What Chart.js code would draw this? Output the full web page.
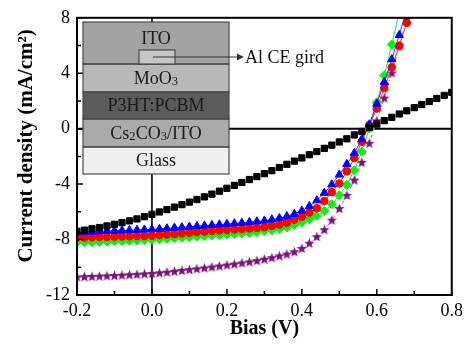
<!DOCTYPE html>
<html>
<head>
<meta charset="utf-8">
<script src="https://cdn.jsdelivr.net/npm/chart.js@4.4.1/dist/chart.umd.min.js"></script>
<style>
  html, body { margin: 0; padding: 0; background: #fff; }
  #wrap { width: 468px; height: 345px; }
</style>
</head>
<body>
<div id="wrap"><canvas id="ivChart" width="468" height="345"></canvas></div>
<script>
// bias (V), one point every 20 mV
const bias = [-0.20, -0.18, -0.16, -0.14, -0.12, -0.10, -0.08, -0.06, -0.04, -0.02,
  0.00, 0.02, 0.04, 0.06, 0.08, 0.10, 0.12, 0.14, 0.16, 0.18,
  0.20, 0.22, 0.24, 0.26, 0.28, 0.30, 0.32, 0.34, 0.36, 0.38,
  0.40, 0.42, 0.44, 0.46, 0.48, 0.50, 0.52, 0.54, 0.56, 0.58,
  0.60, 0.62, 0.64, 0.66, 0.68, 0.70, 0.72, 0.74, 0.76, 0.78, 0.80];

// current density (mA/cm2)
const jSquare = [-7.40, -7.32, -7.22, -7.13, -7.02, -6.90, -6.78, -6.65, -6.51, -6.35,
  -6.18, -6.01, -5.84, -5.66, -5.48, -5.30, -5.11, -4.92, -4.72, -4.51,
  -4.30, -4.09, -3.88, -3.67, -3.46, -3.25, -3.03, -2.80, -2.57, -2.34,
  -2.11, -1.88, -1.65, -1.42, -1.19, -0.96, -0.73, -0.45, -0.20, 0.08,
  0.33, 0.58, 0.82, 1.06, 1.29, 1.52, 1.74, 1.96, 2.18, 2.40, 2.62];
const jTriangle = [-7.50, -7.47, -7.44, -7.41, -7.39, -7.37, -7.35, -7.33, -7.31, -7.29,
  -7.27, -7.24, -7.20, -7.16, -7.12, -7.08, -7.04, -7.00, -6.96, -6.92,
  -6.88, -6.84, -6.80, -6.75, -6.70, -6.64, -6.56, -6.46, -6.33, -6.16,
  -5.92, -5.60, -5.18, -4.64, -4.03, -3.32, -2.56, -1.76, -0.76, 0.30,
  1.80, 3.36, 5.00, 6.75, 8.60];
const jCircle = [-7.85, -7.84, -7.83, -7.82, -7.81, -7.80, -7.78, -7.77, -7.75, -7.74,
  -7.72, -7.68, -7.64, -7.60, -7.55, -7.50, -7.46, -7.42, -7.38, -7.34,
  -7.30, -7.27, -7.24, -7.20, -7.16, -7.10, -7.02, -6.92, -6.78, -6.56,
  -6.36, -6.06, -5.74, -5.22, -4.58, -3.95, -3.08, -2.12, -0.95, 0.26,
  1.45, 2.93, 4.43, 5.98, 7.64];
const jDiamond = [-8.20, -8.19, -8.18, -8.16, -8.14, -8.12, -8.10, -8.08, -8.06, -8.04,
  -8.02, -7.99, -7.95, -7.91, -7.87, -7.83, -7.79, -7.75, -7.71, -7.67,
  -7.63, -7.59, -7.55, -7.51, -7.46, -7.40, -7.33, -7.24, -7.12, -6.94,
  -6.76, -6.52, -6.30, -5.95, -5.45, -4.81, -4.05, -3.00, -1.66, 0.02,
  1.90, 3.85, 6.07, 8.40];
const jStar = [-10.70, -10.68, -10.66, -10.64, -10.62, -10.60, -10.57, -10.54, -10.51, -10.48,
  -10.45, -10.40, -10.35, -10.29, -10.23, -10.17, -10.11, -10.05, -9.98, -9.91,
  -9.84, -9.77, -9.69, -9.61, -9.52, -9.42, -9.31, -9.18, -9.05, -8.88,
  -8.64, -8.26, -7.79, -7.29, -6.60, -5.76, -4.81, -3.71, -2.43, -1.05,
  0.57, 2.21, 4.02, 5.98, 7.93];

const yTicks = [-12, -8, -4, 0, 4, 8];
const xTicks = [-0.2, 0.0, 0.2, 0.4, 0.6, 0.8];

// device stack shown in the inset, top to bottom
const layerNames = [
  [['ITO', 0]],
  [['MoO', 0], ['3', 1]],
  [['P3HT:PCBM', 0]],
  [['Cs', 0], ['2', 1], ['CO', 0], ['3', 1], ['/ITO', 0]],
  [['Glass', 0]]
];
const layerFill = ['#a2a2a2', '#b9b9b9', '#5b5b5b', '#aaaaaa', '#efefef'];
const gridLabel = 'Al CE gird';

const SERIF = "'Liberation Serif', 'Times New Roman', serif";

function pts(ys) {
  return ys.map((v, i) => ({ x: bias[i], y: v }));
}

// filled five point star for the last curve
function starImage(color) {
  const c = document.createElement('canvas');
  c.width = 11; c.height = 11;
  const g = c.getContext('2d');
  g.fillStyle = color;
  g.beginPath();
  for (let i = 0; i < 10; i++) {
    const r = i % 2 === 0 ? 5.5 : 2.3;
    const a = -Math.PI / 2 + i * Math.PI / 5;
    const px = 5.5 + r * Math.cos(a), py = 5.9 + r * Math.sin(a);
    if (i === 0) g.moveTo(px, py); else g.lineTo(px, py);
  }
  g.closePath();
  g.fill();
  return c;
}

function drawRich(ctx, parts, cx, cy, size) {
  let w = 0;
  parts.forEach(([t, sub]) => {
    ctx.font = (sub ? size * 0.7 : size) + 'px ' + SERIF;
    w += ctx.measureText(t).width;
  });
  let x = cx - w / 2;
  ctx.textAlign = 'left';
  ctx.textBaseline = 'alphabetic';
  parts.forEach(([t, sub]) => {
    ctx.font = (sub ? size * 0.7 : size) + 'px ' + SERIF;
    ctx.fillText(t, x, cy + size * 0.33 + (sub ? 1 : 0));
    x += ctx.measureText(t).width;
  });
}

const frame = {
  id: 'frame',
  beforeDatasetsDraw(chart) {
    const { ctx, chartArea: a, scales: { x, y } } = chart;
    const x0 = x.getPixelForValue(0);
    const y0 = y.getPixelForValue(0);
    ctx.save();
    ctx.strokeStyle = '#000';
    ctx.lineWidth = 1.6;
    ctx.beginPath();
    ctx.moveTo(x0, a.top); ctx.lineTo(x0, a.bottom);
    ctx.stroke();
    ctx.lineWidth = 2;
    ctx.beginPath();
    ctx.moveTo(a.left, y0); ctx.lineTo(a.right, y0);
    ctx.stroke();
    ctx.restore();
  },
  afterDatasetsDraw(chart) {
    const { ctx, chartArea: a, scales: { x, y } } = chart;
    ctx.save();
    ctx.strokeStyle = '#000';
    ctx.lineWidth = 2;
    ctx.strokeRect(a.left, a.top, a.right - a.left, a.bottom - a.top);

    // inward ticks, left and bottom only
    ctx.lineWidth = 1.5;
    ctx.beginPath();
    for (let k = -6; k <= 4; k++) {
      const py = y.getPixelForValue(k * 2);
      const len = k % 2 === 0 ? 6 : 4;
      ctx.moveTo(a.left, py); ctx.lineTo(a.left + len, py);
    }
    for (let k = -2; k <= 8; k++) {
      const px = x.getPixelForValue(k / 10);
      const len = k % 2 === 0 ? 6 : 4;
      ctx.moveTo(px, a.bottom); ctx.lineTo(px, a.bottom - len);
    }
    ctx.stroke();

    // inset: device structure
    const L = 83, R = 229;
    const bands = [22, 64, 92, 119, 147, 174];
    for (let i = 0; i < layerFill.length; i++) {
      ctx.fillStyle = layerFill[i];
      ctx.fillRect(L, bands[i], R - L, bands[i + 1] - bands[i]);
    }
    ctx.strokeStyle = '#4a4a4a';
    ctx.lineWidth = 1.2;
    for (let i = 0; i < layerFill.length; i++) {
      ctx.strokeRect(L, bands[i], R - L, bands[i + 1] - bands[i]);
    }
    // Al electrode strip
    ctx.fillStyle = '#c6c6c6';
    ctx.fillRect(139, 50, 36, 14);
    ctx.strokeRect(139, 50, 36, 14);

    ctx.fillStyle = '#1a1a1a';
    const mids = [38, 78, 105.5, 133, 160.5];
    layerNames.forEach((parts, i) => drawRich(ctx, parts, (L + R) / 2, mids[i], 18));

    // arrow to the label
    ctx.strokeStyle = '#333';
    ctx.lineWidth = 1.2;
    ctx.beginPath();
    ctx.moveTo(153, 57); ctx.lineTo(238, 57);
    ctx.stroke();
    ctx.fillStyle = '#333';
    ctx.beginPath();
    ctx.moveTo(244, 57); ctx.lineTo(237, 53.5); ctx.lineTo(237, 60.5);
    ctx.closePath();
    ctx.fill();
    ctx.fillStyle = '#111';
    ctx.font = '18px ' + SERIF;
    ctx.textAlign = 'left';
    ctx.textBaseline = 'middle';
    ctx.fillText(gridLabel, 245, 58);
    ctx.restore();
  }
};

const ctx = document.getElementById('ivChart');
new Chart(ctx, {
  type: 'line',
  data: {
    datasets: [
      {
        data: pts(jSquare),
        showLine: false,
        pointStyle: 'rect',
        pointRadius: 4.4,
        pointBackgroundColor: '#000',
        pointBorderColor: '#000',
        pointBorderWidth: 1
      },
      {
        data: pts(jTriangle),
        borderColor: '#3030ff',
        borderWidth: 1,
        pointStyle: 'triangle',
        pointRadius: 4.8,
        pointBackgroundColor: '#0000ff',
        pointBorderColor: '#0000ff',
        pointBorderWidth: 1
      },
      {
        data: pts(jCircle),
        borderColor: '#ff3030',
        borderWidth: 1,
        pointStyle: 'circle',
        pointRadius: 3.8,
        pointBackgroundColor: '#ff0000',
        pointBorderColor: '#ff0000',
        pointBorderWidth: 1
      },
      {
        data: pts(jDiamond),
        borderColor: '#30e030',
        borderWidth: 1,
        pointStyle: 'rectRot',
        pointRadius: 4.6,
        pointBackgroundColor: '#11ee11',
        pointBorderColor: '#11ee11',
        pointBorderWidth: 1
      },
      {
        data: pts(jStar),
        borderColor: '#b070b0',
        borderWidth: 1,
        borderDash: [4, 2, 1, 2],
        pointStyle: starImage('#7a127a'),
        pointRadius: 5.5
      }
    ]
  },
  options: {
    responsive: false,
    animation: false,
    layout: { padding: { top: 15, right: 16, left: 0, bottom: 0 } },
    plugins: {
      legend: { display: false },
      tooltip: { enabled: false }
    },
    scales: {
      x: {
        type: 'linear',
        min: -0.2,
        max: 0.8,
        afterBuildTicks: (s) => { s.ticks = xTicks.map((v) => ({ value: v })); },
        afterFit: (s) => { s.height = 50; },
        grid: { display: false, drawTicks: false },
        border: { display: false },
        ticks: {
          padding: 5,
          color: '#000',
          font: { family: SERIF, size: 18 },
          callback: (v) => v.toFixed(1)
        },
        title: {
          display: true,
          text: 'Bias (V)',
          color: '#000',
          font: { family: SERIF, size: 20, weight: 'bold' },
          padding: { top: 0, bottom: 4 }
        }
      },
      y: {
        min: -12,
        max: 8,
        afterBuildTicks: (s) => { s.ticks = yTicks.map((v) => ({ value: v })); },
        afterFit: (s) => { s.width = 77; },
        grid: { display: false, drawTicks: false },
        border: { display: false },
        ticks: {
          padding: 7,
          color: '#000',
          font: { family: SERIF, size: 18 }
        },
        title: {
          display: true,
          text: '    Current density (mA/cm\u00b2)',
          color: '#000',
          font: { family: SERIF, size: 21, weight: 'bold' },
          padding: { top: 14, bottom: 0 }
        }
      }
    }
  },
  plugins: [frame]
});
</script>
</body>
</html>
